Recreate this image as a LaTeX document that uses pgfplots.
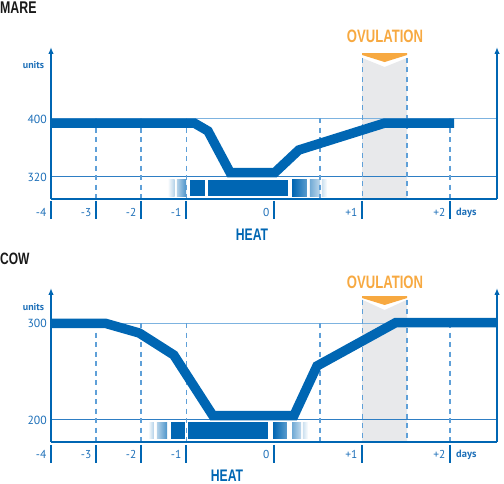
\documentclass[border=0pt]{standalone}
\usepackage{fontspec}
\setmainfont{PT Sans}
\newfontfamily\cond[FakeStretch=0.73]{Liberation Sans}
\usepackage{pgfplots}
\pgfplotsset{compat=1.18}
\usetikzlibrary{arrows.meta}
\definecolor{mainblue}{HTML}{0066B3}
\definecolor{textblue}{HTML}{1D6FB8}
\definecolor{lightline}{HTML}{7DB3E0}
\definecolor{darkline}{HTML}{2E7EC4}
\definecolor{dashblue}{HTML}{5FA0D8}
\definecolor{bandgrey}{HTML}{E8E9EB}
\definecolor{ovorange}{HTML}{F7A941}
\begin{document}
\begin{tikzpicture}
\useasboundingbox (0bp,0bp) rectangle (504bp,484bp);

% ---------------- MARE ----------------
\begin{axis}[at={(51bp,285bp)}, anchor=south west, scale only axis,
  width=446bp, height=152bp, xmin=0, xmax=10.06, ymin=290.17, ymax=496.3,
  hide axis, clip=false]
% ovulation band
\fill[bandgrey] (axis cs:7.02,290.17) -- (axis cs:7.02,481.4) -- (axis cs:7.525,469.2) -- (axis cs:8.03,481.4) -- (axis cs:8.03,290.17) -- cycle;
\fill[ovorange] (axis cs:7.02,488.1) -- (axis cs:8.03,488.1) -- (axis cs:8.03,485.4) -- (axis cs:7.525,475.9) -- (axis cs:7.02,485.4) -- cycle;
% reference lines
\draw[lightline, line width=1bp] (axis cs:0,400) -- (axis cs:10.06,400);
\draw[darkline, line width=1bp] (axis cs:0,320) -- (axis cs:10.06,320);
% heat bars
\fill[left color=white, right color=mainblue!30] (axis cs:2.63,293.6) rectangle (axis cs:2.79,316.6);
\fill[left color=mainblue!30, right color=mainblue!70] (axis cs:2.84,293.6) rectangle (axis cs:3.05,316.6);
\fill[mainblue] (axis cs:3.14,293.6) rectangle (axis cs:3.47,316.6);
\fill[mainblue] (axis cs:3.54,293.6) rectangle (axis cs:5.35,316.6);
\fill[left color=mainblue, right color=mainblue!65] (axis cs:5.44,293.6) rectangle (axis cs:5.77,316.6);
\fill[left color=mainblue!55, right color=mainblue!25] (axis cs:5.84,293.6) rectangle (axis cs:6.07,316.6);
\fill[left color=mainblue!20, right color=white] (axis cs:6.11,293.6) rectangle (axis cs:6.23,316.6);
% dashed guides
\foreach \u in {1.015,2.03,3.05,6.07,9.0}{
  \edef\tmp{\noexpand\draw[dashblue, line width=1.3bp, dash pattern=on 5bp off 4.5bp] (axis cs:\u,400) -- (axis cs:\u,290.17);}\tmp}
\foreach \u in {7.02,8.03}{
  \edef\tmp{\noexpand\draw[dashblue, line width=1.3bp, dash pattern=on 5bp off 4.5bp] (axis cs:\u,481.4) -- (axis cs:\u,290.17);}\tmp}
% curve
\addplot[mainblue, line width=9.5bp, line join=miter, mark=none] coordinates {
 (0,393.2) (3.23,393.2) (3.54,382.4) (4.04,326.1) (5.05,326.1) (5.59,356.6) (7.53,393.2) (9.09,393.2)};
% axes
\draw[mainblue, line width=2bp] (axis cs:0,290.17) -- (axis cs:10.06,290.17);
\draw[mainblue, line width=2bp, -{Latex[length=7bp,width=5.5bp]}] (axis cs:0,290.17) -- (axis cs:0,496.3);
\draw[mainblue, line width=2bp, -{Latex[length=7bp,width=5.5bp]}] (axis cs:10.06,290.17) -- (axis cs:10.06,496.3);
\end{axis}

% ---------------- COW ----------------
\begin{axis}[at={(51bp,42bp)}, anchor=south west, scale only axis,
  width=446bp, height=154bp, xmin=0, xmax=10.06, ymin=177.3, ymax=336.1,
  hide axis, clip=false]
\fill[bandgrey] (axis cs:7.02,177.3) -- (axis cs:7.02,324.0) -- (axis cs:7.525,313.4) -- (axis cs:8.03,324.0) -- (axis cs:8.03,177.3) -- cycle;
\fill[ovorange] (axis cs:7.02,327.8) -- (axis cs:8.03,327.8) -- (axis cs:8.03,325.7) -- (axis cs:7.525,318.6) -- (axis cs:7.02,325.7) -- cycle;
\draw[lightline, line width=1bp] (axis cs:0,300) -- (axis cs:10.06,300);
\draw[darkline, line width=1bp] (axis cs:0,200) -- (axis cs:10.06,200);
\fill[left color=white, right color=mainblue!30] (axis cs:2.19,180.4) rectangle (axis cs:2.32,197.9);
\fill[left color=mainblue!30, right color=mainblue!70] (axis cs:2.39,180.4) rectangle (axis cs:2.62,197.9);
\fill[mainblue] (axis cs:2.71,180.4) rectangle (axis cs:3.02,197.9);
\fill[mainblue] (axis cs:3.09,180.4) rectangle (axis cs:4.90,197.9);
\fill[left color=mainblue, right color=mainblue!65] (axis cs:5.01,180.4) rectangle (axis cs:5.32,197.9);
\fill[left color=mainblue!55, right color=mainblue!25] (axis cs:5.44,180.4) rectangle (axis cs:5.64,197.9);
\fill[left color=mainblue!20, right color=white] (axis cs:5.68,180.4) rectangle (axis cs:5.80,197.9);
\foreach \u in {1.015,2.03,3.05,6.07,9.0}{
  \edef\tmp{\noexpand\draw[dashblue, line width=1.3bp, dash pattern=on 5bp off 4.5bp] (axis cs:\u,300) -- (axis cs:\u,177.3);}\tmp}
\foreach \u in {7.02,8.03}{
  \edef\tmp{\noexpand\draw[dashblue, line width=1.3bp, dash pattern=on 5bp off 4.5bp] (axis cs:\u,324.0) -- (axis cs:\u,177.3);}\tmp}
\addplot[mainblue, line width=9.5bp, line join=miter, mark=none] coordinates {
 (0,299.5) (1.24,299.5) (1.99,289.7) (2.77,267.0) (3.65,204.6) (5.48,204.6) (6.0,255.7) (7.78,300.5) (10.06,300.5)};
\draw[mainblue, line width=2bp] (axis cs:0,177.3) -- (axis cs:10.06,177.3);
\draw[mainblue, line width=2bp, -{Latex[length=7bp,width=5.5bp]}] (axis cs:0,177.3) -- (axis cs:0,336.1);
\draw[mainblue, line width=2bp, -{Latex[length=7bp,width=5.5bp]}] (axis cs:10.06,177.3) -- (axis cs:10.06,336.1);
\end{axis}

% ---------------- ticks and texts ----------------
\begin{scope}[x=1bp,y=1bp]
\foreach \px in {51,96,141,186,274,362,450}{
  \draw[mainblue, line width=1.3bp] (\px,283) -- (\px,265);
  \draw[mainblue, line width=1.3bp] (\px,39) -- (\px,21);
}
\foreach \px/\lab in {51/-4,96/-3,141/-2,186/-1,274/0,362/+1,450/+2}{
  \node[anchor=base east, inner sep=0, text=textblue, font=\fontsize{11.5}{13}\selectfont] at (\px-4.5,268) {\lab};
  \node[anchor=base east, inner sep=0, text=textblue, font=\fontsize{11.5}{13}\selectfont] at (\px-4.5,26) {\lab};
}
\node[anchor=base west, inner sep=0, text=textblue, font=\fontsize{10.5}{13}\selectfont\bfseries] at (456,268.5) {days};
\node[anchor=base west, inner sep=0, text=textblue, font=\fontsize{10.5}{13}\selectfont\bfseries] at (456,26.5) {days};
\node[anchor=base, inner sep=0, text=textblue, font=\fontsize{10}{12}\selectfont\bfseries] at (33.5,415.7) {units};
\node[anchor=base, inner sep=0, text=textblue, font=\fontsize{10}{12}\selectfont\bfseries] at (33.5,173.3) {units};
\node[anchor=base east, inner sep=0, text=textblue, font=\fontsize{11.8}{13}\selectfont] at (47,361) {400};
\node[anchor=base east, inner sep=0, text=textblue, font=\fontsize{11.8}{13}\selectfont] at (47,303) {320};
\node[anchor=base east, inner sep=0, text=textblue, font=\fontsize{11.8}{13}\selectfont] at (47,156.7) {300};
\node[anchor=base east, inner sep=0, text=textblue, font=\fontsize{11.8}{13}\selectfont] at (47,60) {200};
\node[anchor=base west, inner sep=0, text=black!90, font=\cond\bfseries\fontsize{17}{17}\selectfont] at (0,470) {MARE};
\node[anchor=base west, inner sep=0, text=black!90, font=\cond\bfseries\fontsize{16.5}{17}\selectfont] at (0,219.5) {COW};
\node[anchor=base, inner sep=0, text=mainblue, font=\cond\bfseries\fontsize{16.8}{17}\selectfont] at (252,244) {HEAT};
\node[anchor=base, inner sep=0, text=mainblue, font=\cond\bfseries\fontsize{16.8}{17}\selectfont] at (227,2.5) {HEAT};
\node[anchor=base, inner sep=0, text=ovorange, font=\cond\bfseries\fontsize{18}{18}\selectfont] at (385,441) {OVULATION};
\node[anchor=base, inner sep=0, text=ovorange, font=\cond\bfseries\fontsize{18}{18}\selectfont] at (385,196) {OVULATION};
\end{scope}
\end{tikzpicture}
\end{document}
